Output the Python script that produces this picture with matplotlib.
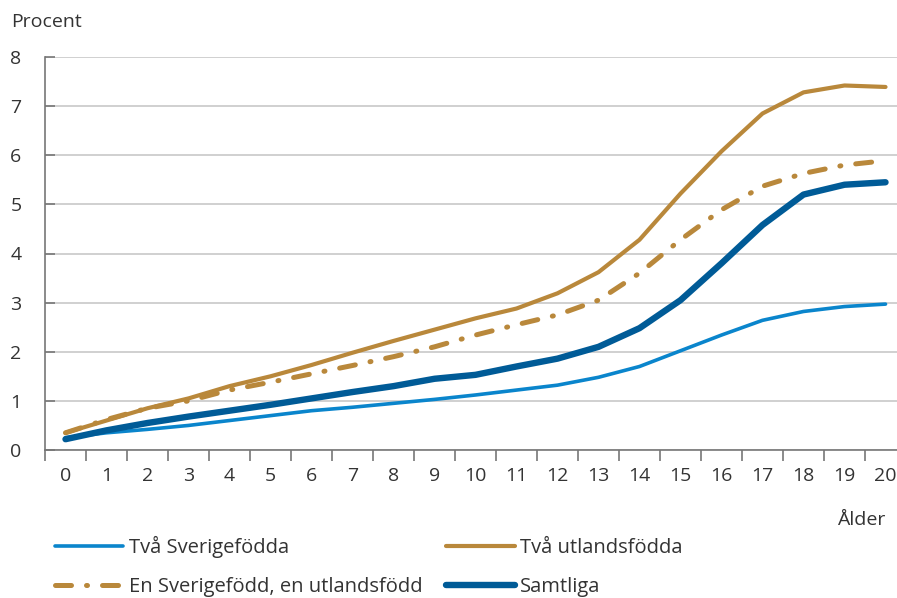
import numpy as np
import matplotlib
matplotlib.use('Agg')
import matplotlib.pyplot as plt
from matplotlib.ticker import FixedLocator

plt.rcParams['font.family'] = ['Open Sans', 'DejaVu Sans']

alder = list(range(21))
tva_sverige = [0.25, 0.35, 0.42, 0.50, 0.60, 0.70, 0.80, 0.87, 0.95, 1.03, 1.12,
               1.22, 1.32, 1.48, 1.70, 2.02, 2.34, 2.64, 2.82, 2.92, 2.97]
tva_utland = [0.35, 0.60, 0.85, 1.05, 1.30, 1.50, 1.73, 1.98, 2.22, 2.45, 2.68,
              2.88, 3.19, 3.62, 4.28, 5.22, 6.08, 6.85, 7.28, 7.42, 7.39]
en_av_varje = [0.35, 0.62, 0.85, 1.00, 1.22, 1.38, 1.55, 1.72, 1.90, 2.10, 2.34,
               2.55, 2.75, 3.05, 3.60, 4.28, 4.89, 5.37, 5.63, 5.80, 5.89]
samtliga = [0.22, 0.40, 0.55, 0.68, 0.80, 0.92, 1.05, 1.18, 1.30, 1.45, 1.53,
            1.70, 1.86, 2.10, 2.48, 3.05, 3.80, 4.58, 5.20, 5.40, 5.45]

light_blue = '#0a85cc'
gold = '#b9883b'
dark_blue = '#005b97'
text_col = '#333333'
grid_col = '#c8c8c8'

fig = plt.figure(figsize=(8.97, 5.98), dpi=100)
ax = fig.add_axes([45 / 897, 148 / 598, 1 - 45 / 897, 393 / 598])

l1, = ax.plot(alder, tva_sverige, color=light_blue, lw=2.6, solid_capstyle='round',
              label='Två Sverigefödda')
l2, = ax.plot(alder, tva_utland, color=gold, lw=3.0, solid_capstyle='round',
              label='Två utlandsfödda')
l3, = ax.plot(alder, en_av_varje, color=gold, lw=3.6, dash_capstyle='round',
              dashes=(3.2, 3.0, 0.2, 3.0), label='En Sverigefödd, en utlandsfödd')
l4, = ax.plot(alder, samtliga, color=dark_blue, lw=4.6, solid_capstyle='round',
              label='Samtliga')

ax.set_xlim(-0.5, 20.28)
ax.set_ylim(0, 8)
ax.set_yticks(range(9))
ax.set_xticks(alder)
ax.xaxis.set_minor_locator(FixedLocator(np.arange(-0.5, 20.6, 1)))
ax.grid(axis='y', color=grid_col, lw=1.2)
ax.set_axisbelow(True)

for s in ['top', 'right']:
    ax.spines[s].set_visible(False)
for s in ['left', 'bottom']:
    ax.spines[s].set_color('#777777')
    ax.spines[s].set_linewidth(1.2)

ax.tick_params(axis='x', which='major', length=0, pad=12, labelsize=14, labelcolor=text_col)
ax.tick_params(axis='x', which='minor', length=8, width=1.2, color='#777777', direction='out')
ax.tick_params(axis='y', length=7, width=1.2, color='#777777', direction='in', pad=17,
               labelsize=14, labelcolor=text_col)

fig.text(11 / 897, 1 - 22 / 598, 'Procent', fontsize=14, color=text_col, va='center', ha='left')
fig.text(885 / 897, 1 - 520 / 598, 'Ålder', fontsize=14, color=text_col, va='center', ha='right')

leg = fig.legend(handles=[l1, l3, l2, l4], ncol=2, loc='upper left',
                 bbox_to_anchor=(55 / 897, 1 - 536 / 598), frameon=False, fontsize=14.5,
                 handlelength=3.4, handletextpad=0.25, columnspacing=1.2,
                 labelspacing=0.95, borderaxespad=0, borderpad=0)
for t in leg.get_texts():
    t.set_color(text_col)

fig.savefig('out.png', dpi=100)
